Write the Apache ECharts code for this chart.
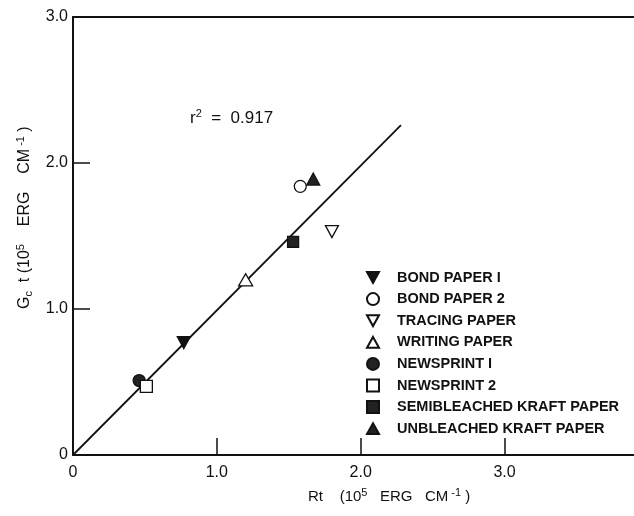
<!DOCTYPE html>
<html><head><meta charset="utf-8">
<script src="https://cdn.jsdelivr.net/npm/echarts@6/dist/echarts.min.js"></script>
<style>html,body{margin:0;padding:0;background:#fff}#c{width:634px;height:516px}</style>
</head><body><div id="c"></div>
<script>
// Data (x = Rt, y = Gc t, both in 10^5 erg/cm)
const names = ['BOND PAPER I','BOND PAPER 2','TRACING PAPER','WRITING PAPER','NEWSPRINT I','NEWSPRINT 2','SEMIBLEACHED KRAFT PAPER','UNBLEACHED KRAFT PAPER'];
const bondPaper1 = [[0.77, 0.77]];
const bondPaper2 = [[1.58, 1.84]];
const tracingPaper = [[1.80, 1.53]];
const writingPaper = [[1.20, 1.20]];
const newsprint1 = [[0.46, 0.51]];
const newsprint2 = [[0.51, 0.47]];
const semibleached = [[1.53, 1.46]];
const unbleached = [[1.67, 1.89]];
const fitLine = [[0, 0], [2.28, 2.26]];
const xTicks = [0, 1, 2, 3];
const yTicks = [0, 1, 2, 3];
const r2Text = 'r{sup|2}  =  0.917';

const font = 'Liberation Sans, Arial, sans-serif';
const fmt = v => v === 0 ? '0' : v.toFixed(1);

const downTri = 'path://M0,0L10,0L5,9Z';
const upTri = 'path://M5,0L10,9L0,9Z';
const styles = [
  {symbol: downTri, fill:'#111', size:[13,12]},
  {symbol:'circle', fill:'#fff', size:12},
  {symbol: downTri, fill:'#fff', size:[13,12]},
  {symbol: upTri, fill:'#fff', size:[14,12]},
  {symbol:'circle', fill:'#222', size:12},
  {symbol:'rect', fill:'#fff', size:12},
  {symbol:'rect', fill:'#222', size:11},
  {symbol: upTri, fill:'#222', size:[13,12]}
];
const datasets = [bondPaper1, bondPaper2, tracingPaper, writingPaper, newsprint1, newsprint2, semibleached, unbleached];

const scatterSeries = names.map((n, i) => ({
  name: n, type: 'scatter', data: datasets[i],
  symbol: styles[i].symbol, symbolSize: styles[i].size,
  itemStyle: {color: styles[i].fill, borderColor: '#111', borderWidth: 1.3, opacity: 1},
  z: 5
}));

const chart = echarts.init(document.getElementById('c'), null, {renderer: 'canvas'});
chart.setOption({
  backgroundColor: '#fff',
  animation: false,
  grid: {left: 73, top: 17, right: 0, bottom: 61, containLabel: false},
  xAxis: [{
    type: 'value', min: 0, max: 3.9, interval: 1,
    axisLine: {lineStyle: {color: '#111', width: 2}},
    axisTick: {show: true, inside: true, length: 17, customValues: [1, 2, 3], lineStyle: {color: '#111', width: 1.5}},
    axisLabel: {customValues: xTicks, formatter: fmt, color: '#111', fontSize: 16, fontFamily: font, margin: 10},
    splitLine: {show: false}
  }, {
    type: 'value', position: 'top', min: 0, max: 3.9,
    axisLine: {show: true, lineStyle: {color: '#111', width: 2}},
    axisTick: {show: false}, axisLabel: {show: false}, splitLine: {show: false}
  }],
  yAxis: {
    type: 'value', min: 0, max: 3, interval: 1,
    axisLine: {show: true, lineStyle: {color: '#111', width: 2}},
    axisTick: {show: true, inside: true, length: 17, customValues: [1, 2], lineStyle: {color: '#111', width: 1.5}},
    axisLabel: {customValues: yTicks, formatter: fmt, color: '#111', fontSize: 16, fontFamily: font, margin: 5},
    splitLine: {show: false}
  },
  legend: {
    orient: 'vertical', left: 366, top: 270, padding: 0,
    data: names.map((n, i) => ({name: n, icon: styles[i].symbol})),
    itemWidth: 12, itemHeight: 12, itemGap: 6.6,
    textStyle: {color: '#111', fontSize: 14.5, lineHeight: 14, fontWeight: 'bold', fontFamily: font, padding: [0, 0, 0, 13]},
    selectedMode: false
  },
  graphic: [
    {type: 'text', x: 190, y: 118, style: {text: r2Text, fill: '#111', font: '17px ' + font, verticalAlign: 'middle',
      rich: {sup: {fontSize: 11, padding: [0, 0, 9, 0], fill: '#111', fontFamily: font}}}},
    {type: 'text', x: 25, y: 309, rotation: Math.PI / 2,
      style: {text: 'G{sub|c}  t (10{sup|5}    ERG    CM{sup| -1} )', fill: '#111', font: '16px ' + font, align: 'left', verticalAlign: 'middle',
        rich: {sup: {fontSize: 11, padding: [0, 0, 9, 0], fill: '#111', fontFamily: font},
               sub: {fontSize: 11, padding: [7, 0, 0, 0], fill: '#111', fontFamily: font}}}},
    {type: 'text', x: 308, y: 497,
      style: {text: 'Rt    (10{sup|5}   ERG   CM{sup| -1} )', fill: '#111', font: '15px ' + font, align: 'left', verticalAlign: 'middle',
        rich: {sup: {fontSize: 11, padding: [0, 0, 9, 0], fill: '#111', fontFamily: font}}}}
  ],
  series: [
    {type: 'line', data: fitLine, symbol: 'none', lineStyle: {color: '#111', width: 1.8}, z: 3, silent: true}
  ].concat(scatterSeries)
});
</script></body></html>
